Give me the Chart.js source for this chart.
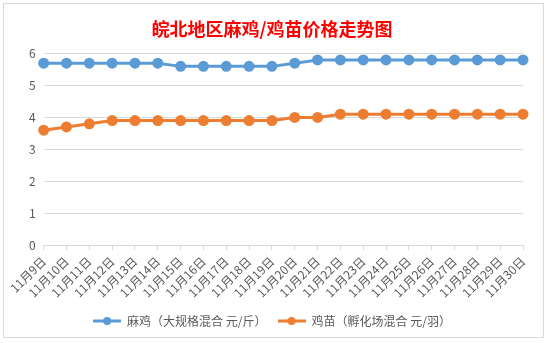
<!DOCTYPE html>
<html>
<head>
<meta charset="utf-8">
<script src="https://cdn.jsdelivr.net/npm/chart.js@4"></script>
<style>
  html, body { margin: 0; padding: 0; background: #fff; }
  body { width: 548px; height: 343px; position: relative; overflow: hidden; }
  #box {
    position: absolute; left: 3px; top: 3px; width: 539px; height: 333px;
    border: 1px solid #d9d9d9; background: #fff;
  }
  canvas { display: block; }
</style>
</head>
<body>
<div id="box"><canvas id="chart" width="539" height="333"></canvas></div>
<script>
// dates 11/9 - 11/30
const days = ['11月9日', '11月10日', '11月11日', '11月12日', '11月13日', '11月14日', '11月15日', '11月16日',
  '11月17日', '11月18日', '11月19日', '11月20日', '11月21日', '11月22日', '11月23日', '11月24日',
  '11月25日', '11月26日', '11月27日', '11月28日', '11月29日', '11月30日'];
const maji = [5.7, 5.7, 5.7, 5.7, 5.7, 5.7, 5.6, 5.6, 5.6, 5.6, 5.6, 5.7, 5.8, 5.8, 5.8, 5.8, 5.8, 5.8, 5.8, 5.8, 5.8, 5.8];
const jimiao = [3.6, 3.7, 3.8, 3.9, 3.9, 3.9, 3.9, 3.9, 3.9, 3.9, 3.9, 4.0, 4.0, 4.1, 4.1, 4.1, 4.1, 4.1, 4.1, 4.1, 4.1, 4.1];
const seriesNames = ['麻鸡（大规格混合 元/斤）', '鸡苗（孵化场混合 元/羽）'];
const colors = ['#5b9bd5', '#ed7d31'];

// legend marker: short line with a dot in the middle
function legendMark(col) {
  const c = document.createElement('canvas');
  c.width = 28; c.height = 10;
  const g = c.getContext('2d');
  g.strokeStyle = col; g.lineWidth = 3;
  g.beginPath(); g.moveTo(0, 5); g.lineTo(28, 5); g.stroke();
  g.fillStyle = col;
  g.beginPath(); g.arc(14, 5, 4, 0, Math.PI * 2); g.fill();
  return c;
}
const marks = colors.map(legendMark);

const font = "'Microsoft YaHei', 'Noto Sans CJK SC', sans-serif";

new Chart(document.getElementById('chart'), {
  type: 'line',
  data: {
    labels: days,
    datasets: [maji, jimiao].map((d, i) => ({
      label: seriesNames[i],
      data: d,
      borderColor: colors[i],
      backgroundColor: colors[i],
      borderWidth: 3,
      pointRadius: 4,
      pointHoverRadius: 4,
      tension: 0
    }))
  },
  options: {
    responsive: false,
    animation: false,
    layout: { padding: { top: 13, left: 17, right: 20, bottom: 0 } },
    plugins: {
      title: {
        display: true,
        text: '皖北地区麻鸡/鸡苗价格走势图',
        color: '#ff0000',
        font: { family: "'Noto Sans CJK SC', sans-serif", size: 18, weight: 'bold' },
        padding: { top: 1, bottom: 14 }
      },
      legend: {
        position: 'bottom',
        labels: {
          usePointStyle: true,
          pointStyleWidth: 28,
          color: '#595959',
          font: { family: font, size: 12 },
          padding: 11,
          generateLabels: (chart) => {
            const items = Chart.defaults.plugins.legend.labels.generateLabels(chart);
            items.forEach((it, i) => { it.pointStyle = marks[i]; });
            return items;
          }
        }
      },
      tooltip: { enabled: false }
    },
    scales: {
      x: {
        grid: { drawOnChartArea: false, drawTicks: true, tickLength: 5, color: '#d9d9d9' },
        border: { color: '#d9d9d9' },
        ticks: {
          color: '#595959',
          font: { family: font, size: 12 },
          minRotation: 45,
          maxRotation: 45,
          autoSkip: false,
          padding: 4
        }
      },
      y: {
        min: 0,
        max: 6,
        ticks: { stepSize: 1, color: '#595959', font: { family: font, size: 12 }, padding: 8 },
        grid: { color: '#d9d9d9', drawTicks: false },
        border: { display: false }
      }
    }
  }
});
</script>
</body>
</html>
